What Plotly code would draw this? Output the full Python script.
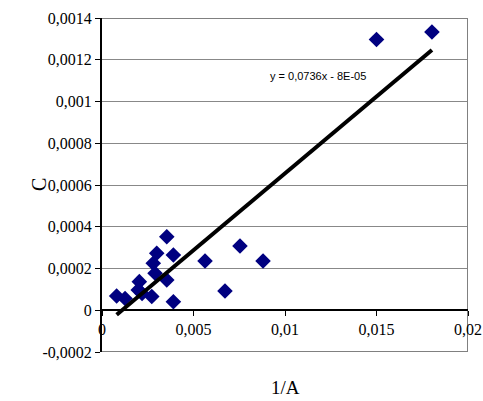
import plotly.graph_objects as go

# Data
inv_a = [0.00080, 0.00126, 0.00204, 0.00198, 0.00219, 0.00272, 0.00290, 0.00280,
         0.00299, 0.00354, 0.00390, 0.00354, 0.00390, 0.00563, 0.00672, 0.00754,
         0.00880, 0.01500, 0.01803]
c_vals = [0.000068, 0.000056, 0.000137, 0.000097, 0.000080, 0.000066, 0.000177, 0.000225,
          0.000273, 0.000352, 0.000265, 0.000145, 0.000041, 0.000236, 0.000092, 0.000308,
          0.000236, 0.001297, 0.001333]

trend_slope = 0.0736
trend_intercept = -8e-05
trend_label = "y = 0,0736x - 8E-05"

x_tickvals = [0, 0.005, 0.01, 0.015, 0.02]
x_ticktext = ["0", "0,005", "0,01", "0,015", "0,02"]
y_tickvals = [-0.0002, 0, 0.0002, 0.0004, 0.0006, 0.0008, 0.001, 0.0012, 0.0014]
y_ticktext = ["-0,0002", "0", "0,0002", "0,0004", "0,0006", "0,0008", "0,001", "0,0012", "0,0014"]

serif = "Liberation Serif, Times New Roman, serif"
x_range = [0, 0.02]
y_range = [-0.0002, 0.0014]

x0, x1 = min(inv_a), max(inv_a)
trend_x = [x0, x1]
trend_y = [trend_slope * v + trend_intercept for v in trend_x]

# plot-area frame (top, right, bottom) taken from the axis ranges
frame_x = [x_range[0], x_range[1], x_range[1], x_range[0]]
frame_y = [y_range[1], y_range[1], y_range[0], y_range[0]]

fig = go.Figure()
fig.add_trace(go.Scatter(x=frame_x, y=frame_y, mode="lines",
                         line=dict(color="#808080", width=2), showlegend=False,
                         hoverinfo="skip", cliponaxis=False))
fig.add_trace(go.Scatter(x=inv_a, y=c_vals, mode="markers",
                         marker=dict(symbol="diamond", size=12, color="#000080",
                                     line=dict(width=0)),
                         showlegend=False, cliponaxis=False))
fig.add_trace(go.Scatter(x=trend_x, y=trend_y, mode="lines",
                         line=dict(color="black", width=4), showlegend=False))

fig.update_layout(
    width=483, height=401,
    margin=dict(l=102, r=15, t=18, b=49),
    paper_bgcolor="white", plot_bgcolor="white",
    font=dict(family=serif, size=16, color="black"),
    xaxis=dict(range=x_range, tickvals=x_tickvals, ticktext=x_ticktext,
               showgrid=False, zeroline=False, automargin=False,
               showline=True, linecolor="black", linewidth=1.5,
               anchor="free", position=0.125,
               ticks="outside", ticklen=5, tickcolor="black", tickwidth=1,
               tickfont=dict(family=serif, size=16)),
    yaxis=dict(range=y_range, tickvals=y_tickvals, ticktext=y_ticktext,
               showgrid=True, gridcolor="#888888", gridwidth=1,
               zeroline=False, automargin=False,
               showline=True, linecolor="black", linewidth=2,
               ticks="outside", ticklen=5, tickcolor="black", tickwidth=1,
               tickfont=dict(family=serif, size=16)),
    annotations=[
        dict(text=trend_label, x=0.01178, y=0.00112, xref="x", yref="y",
             showarrow=False, font=dict(family="Liberation Sans, Arial, sans-serif", size=11)),
        dict(text="1/A", x=0.5, y=-0.105, xref="paper", yref="paper",
             yanchor="middle", showarrow=False, font=dict(family=serif, size=19)),
        dict(text="C", x=-0.172, y=0.5, xref="paper", yref="paper", textangle=-90,
             xanchor="center", yanchor="middle",
             showarrow=False, font=dict(family=serif, size=20)),
    ],
)

fig.write_html("out.html")
